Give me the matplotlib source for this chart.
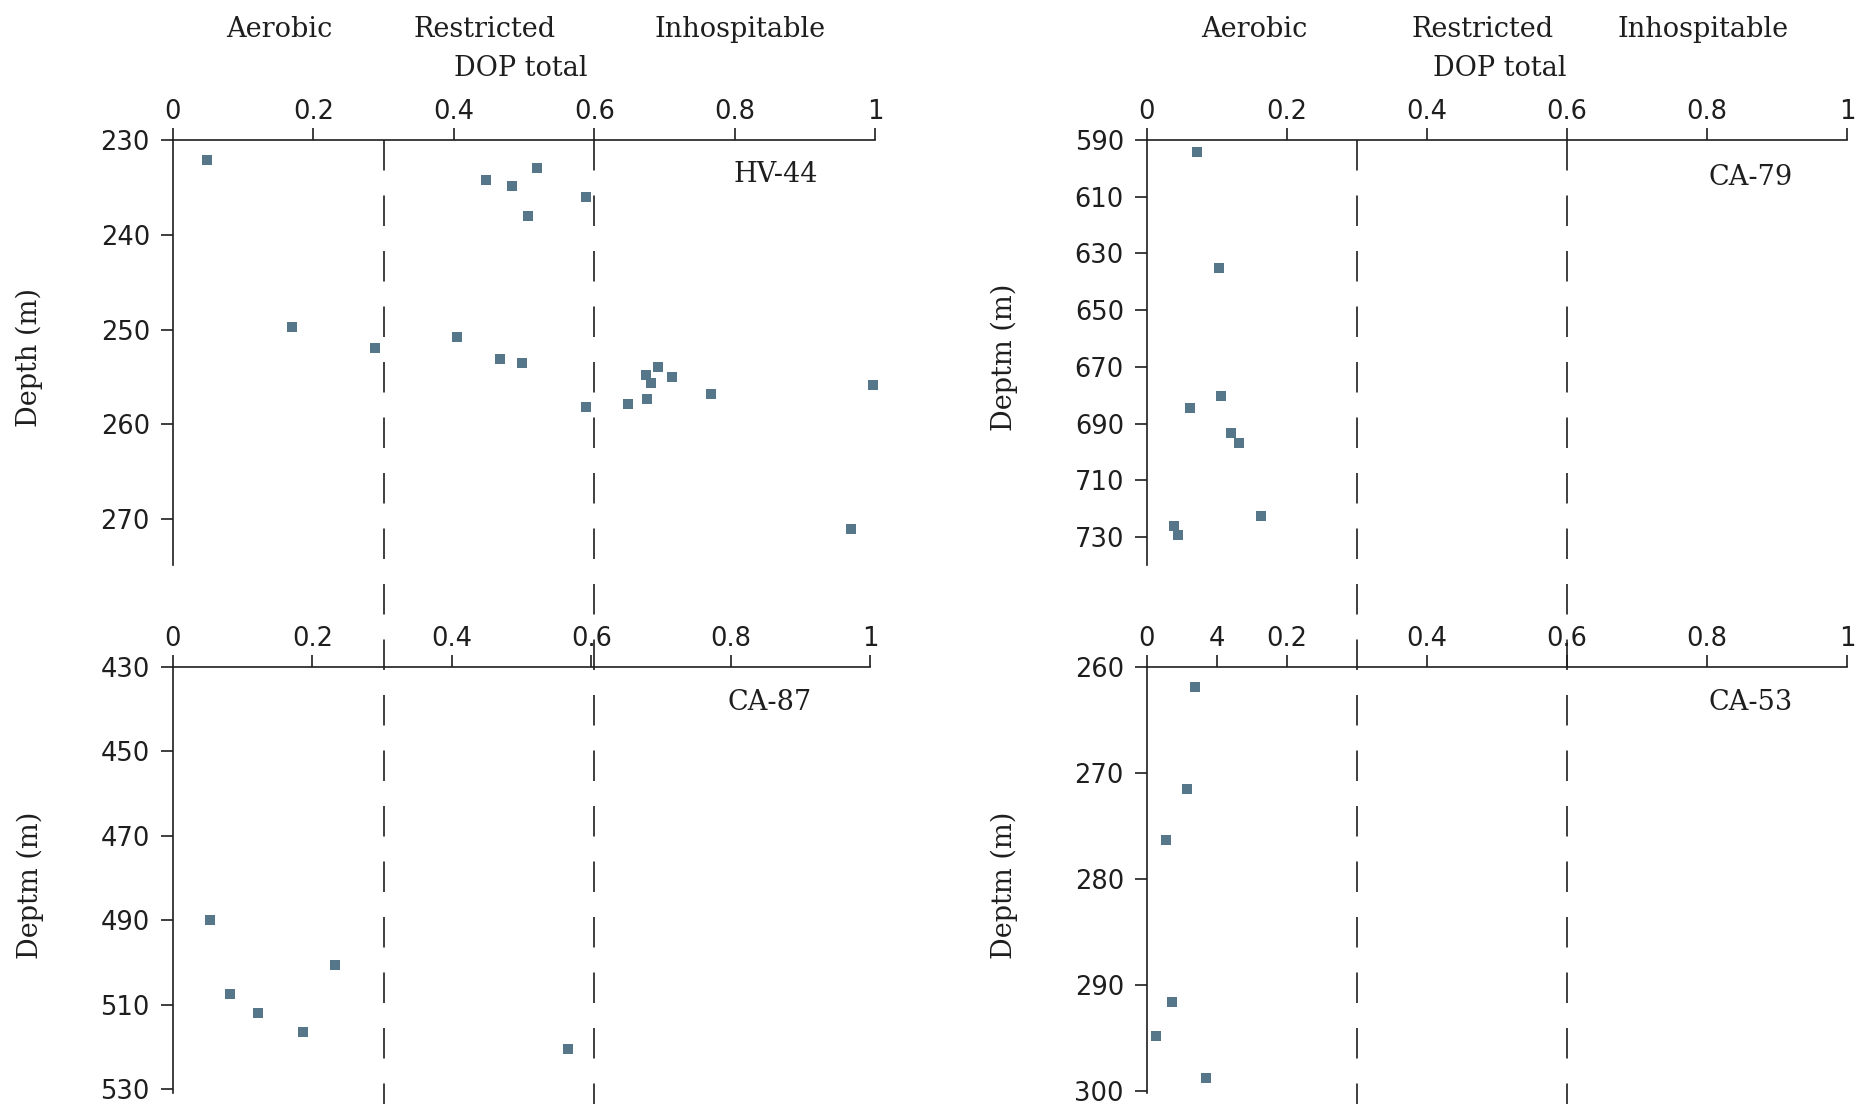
import matplotlib
matplotlib.use("Agg")
import matplotlib.pyplot as plt

# ----- data: DOP total vs depth for each borehole -----
hv44_dop = [0.048, 0.518, 0.446, 0.482, 0.588, 0.506, 0.170, 0.405, 0.288, 0.465, 0.497,
            0.690, 0.673, 0.711, 0.681, 0.997, 0.766, 0.675, 0.647, 0.588, 0.965]
hv44_depth = [232.1, 233.0, 234.2, 234.9, 236.0, 238.0, 249.7, 250.8, 251.9, 253.1, 253.5,
              254.0, 254.8, 255.0, 255.6, 255.9, 256.8, 257.3, 257.9, 258.2, 271.0]

ca79_dop = [0.071, 0.103, 0.106, 0.061, 0.120, 0.131, 0.163, 0.038, 0.044]
ca79_depth = [594.1, 635.2, 680.4, 684.3, 693.4, 696.9, 722.5, 726.2, 729.2]

ca87_dop = [0.053, 0.233, 0.082, 0.122, 0.186, 0.567]
ca87_depth = [489.9, 500.5, 507.4, 512.0, 516.4, 520.5]

ca53_dop = [0.068, 0.057, 0.027, 0.036, 0.0135, 0.084]
ca53_depth = [261.95, 271.5, 276.3, 291.6, 294.8, 298.8]

xticks = [0, 0.2, 0.4, 0.6, 0.8, 1]
xtick_labels = ['0', '0.2', '0.4', '0.6', '0.8', '1']
ca53_xticks = [0, 0.1, 0.2, 0.4, 0.6, 0.8, 1]
ca53_xtick_labels = ['0', '4', '0.2', '0.4', '0.6', '0.8', '1']

thresholds = [0.3, 0.6]
zones = ['Aerobic', 'Restricted', 'Inhospitable']

ink = '#1e1e1e'
marker_color = '#557789'
serif = 'DejaVu Serif'

fig = plt.figure(figsize=(18.58, 11.04), dpi=100)

# ----- panels -----
panels = [
    # name, dop, depth, ylim, yticks, xticks, xlabels, ylabel, rect, name pos
    ('HV-44', hv44_dop, hv44_depth, (230, 274.85), [230, 240, 250, 260, 270],
     xticks, xtick_labels, 'Depth (m)', [0.0931, 0.4882, 0.3781, 0.3850], (0.858, 0.902)),
    ('CA-79', ca79_dop, ca79_depth, (590, 739.8), list(range(590, 731, 20)),
     xticks, xtick_labels, 'Deptm (m)', [0.6173, 0.4882, 0.3768, 0.3850], (0.862, 0.894)),
    ('CA-87', ca87_dop, ca87_depth, (430, 530.85), list(range(430, 531, 20)),
     xticks, xtick_labels, 'Deptm (m)', [0.0931, 0.0100, 0.3753, 0.3861], (0.855, 0.899)),
    ('CA-53', ca53_dop, ca53_depth, (260, 300.2), [260, 270, 280, 290, 300],
     ca53_xticks, ca53_xtick_labels, 'Deptm (m)', [0.6173, 0.0100, 0.3768, 0.3861], (0.862, 0.899)),
]

axes = []
for name, dop, depth, ylim, yt, xt, xl, ylab, rect, npos in panels:
    ax = fig.add_axes(rect)
    ax.patch.set_visible(False)
    ax.plot(dop, depth, 's', ms=7.6, mew=0, color=marker_color, clip_on=False, zorder=3)
    ax.set_xlim(0, 1)
    ax.set_ylim(ylim[1], ylim[0])
    ax.set_xticks(xt)
    ax.set_xticklabels(xl)
    ax.set_yticks(yt)
    ax.xaxis.tick_top()
    for side in ['right', 'bottom']:
        ax.spines[side].set_visible(False)
    for side in ['top', 'left']:
        ax.spines[side].set_linewidth(1.2)
        ax.spines[side].set_color(ink)
    ax.tick_params(axis='x', direction='out', length=8.6, width=1.2, pad=2,
                   labelsize=18.5, colors=ink)
    ax.tick_params(axis='y', direction='out', length=8.6, width=1.2, pad=8,
                   labelsize=18.5, colors=ink)
    ax.text(npos[0], npos[1], name, transform=ax.transAxes, ha='center', va='baseline',
            fontsize=19.5, family=serif, color=ink)
    ax.text(-0.204, 0.488, ylab, transform=ax.transAxes, rotation=90, ha='center',
            va='center', fontsize=19.5, family=serif, color=ink)
    axes.append(ax)

# ----- zone labels above the top panels -----
zone_x = [[0.152, 0.443, 0.807], [0.153, 0.48, 0.794]]
dop_x = [0.495, 0.504]
for ax, zx, dx in zip(axes[:2], zone_x, dop_x):
    for label, x in zip(zones, zx):
        ax.text(x, 1.243, label, transform=ax.get_xaxis_transform(), ha='center',
                va='baseline', fontsize=19.5, family=serif, color=ink)
    ax.text(dx, 1.1506, 'DOP total', transform=ax.get_xaxis_transform(), ha='center',
            va='baseline', fontsize=19.5, family=serif, color=ink)

    # threshold lines run down through the lower panel
    for t in thresholds:
        ax.plot([t, t], [1, -1.27], transform=ax.get_xaxis_transform(), clip_on=False,
                color=ink, lw=1.2, ls=(0, (18.3, 15)), zorder=1)

fig.savefig('out.png', dpi=100)
